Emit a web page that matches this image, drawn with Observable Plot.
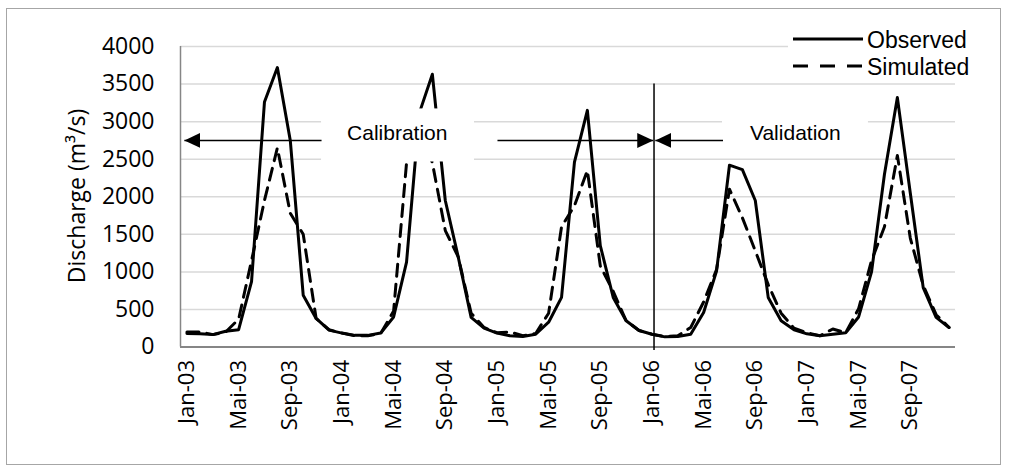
<!DOCTYPE html>
<html><head><meta charset="utf-8">
<script src="https://cdn.jsdelivr.net/npm/d3@7"></script>
<script src="https://cdn.jsdelivr.net/npm/@observablehq/plot@0.6"></script>
<style>
body{margin:0;background:#fff;}
#wrap{position:relative;width:1009px;height:470px;overflow:hidden;background:#fff;}
#chart{position:absolute;left:0;top:0;}
#border{position:absolute;left:6px;top:8px;width:995px;height:457px;border:1px solid #a6a6a6;box-sizing:border-box;pointer-events:none;}
#legend{position:absolute;left:788px;top:24px;width:190px;height:56px;background:#fff;}
#ylabel{position:absolute;left:76px;top:196px;transform:translate(-50%,-50%) rotate(-90deg);white-space:nowrap;font:23px "Open Sans";line-height:1;color:#000;}
</style></head><body>
<div id="wrap"><div id="chart"></div><div id="ylabel">Discharge (m³/s)</div><div id="legend"></div><div id="border"></div></div>
<script>
// ---- data ----
const monthNames = ["Jan","Feb","Mrz","Apr","Mai","Jun","Jul","Aug","Sep","Okt","Nov","Dez"];
const years = ["03","04","05","06","07"];
const observed = [
  180,175,165,210,230,870,3260,3720,2750,690,380,225,
  185,155,155,185,400,1130,3120,3630,1950,1200,395,250,
  185,150,140,170,330,660,2460,3150,1350,660,350,220,
  170,135,140,170,460,1010,2420,2360,1950,660,350,230,
  175,150,170,190,400,1000,2300,3320,2050,790,395,260
];
const simulated = [
  200,200,165,200,370,1150,1950,2650,1780,1500,380,230,
  185,150,150,180,480,2450,2950,2450,1550,1200,450,260,
  190,200,150,180,450,1600,1880,2350,1080,740,350,220,
  170,140,150,260,600,1030,2100,1720,1280,830,450,250,
  190,150,240,190,510,1150,1600,2550,1450,820,430,260
];
const yTicks = [0,500,1000,1500,2000,2500,3000,3500,4000];
const xTickIdx = [0,4,8,12,16,20,24,28,32,36,40,44,48,52,56];
const splitIdx = [36.16];
const annotBoxes = [
  {x1:10.42,x2:22.26,y1:2463,y2:3169},
  {x1:41.46,x2:52.76,y1:2540,y2:3150}
];
const arrowSegs = [
  {x1:10.42,x2:-0.2,y:2750},
  {x1:24.04,x2:36.1,y:2750},
  {x1:41.5,x2:36.26,y:2750}
];
const notes = [
  {x:16.28,y:2842,text:"Calibration"},
  {x:47.1,y:2842,text:"Validation"}
];
const series = [
  {name:"Observed",dash:null},
  {name:"Simulated",dash:"15,12"}
];

const labels = years.flatMap(y => monthNames.map(m => `${m}-${y}`));
const rows = observed.map((v,i)=>({i, obs:v, sim:simulated[i]}));

function triMarker(color){
  const ns = "http://www.w3.org/2000/svg";
  const m = document.createElementNS(ns,"marker");
  m.setAttribute("viewBox","-16 -8 17 16");
  m.setAttribute("markerWidth","17");
  m.setAttribute("markerHeight","16");
  m.setAttribute("markerUnits","userSpaceOnUse");
  m.setAttribute("orient","auto");
  m.setAttribute("refX","0");
  m.setAttribute("refY","0");
  const p = document.createElementNS(ns,"path");
  p.setAttribute("d","M-16,-7.5L0,0L-16,7.5Z");
  p.setAttribute("fill",color);
  p.setAttribute("stroke","none");
  m.appendChild(p);
  return m;
}

const plot = Plot.plot({
  width:1009, height:470,
  marginLeft:180, marginRight:54, marginTop:46, marginBottom:123.5,
  style:{background:"transparent", overflow:"visible", color:"#000"},
  x:{domain:[-0.5,59.5]},
  y:{domain:[0,4000]},
  marks:[
    Plot.ruleY(yTicks.slice(1), {stroke:"#d9d9d9", strokeWidth:1.5}),
    Plot.line(rows,{x:"i",y:"sim",stroke:"#000",strokeWidth:3,strokeDasharray:"12,8",strokeLinejoin:"round"}),
    Plot.line(rows,{x:"i",y:"obs",stroke:"#000",strokeWidth:3,strokeLinejoin:"round"}),
    Plot.ruleX([-0.5],{y1:0,y2:4000,stroke:"#868686",strokeWidth:1.5}),
    Plot.ruleY([0],{stroke:"#868686",strokeWidth:2}),
    Plot.rect(annotBoxes,{x1:"x1",x2:"x2",y1:"y1",y2:"y2",fill:"#fff"}),
    Plot.ruleX(splitIdx,{y1:3500,y2:-45,stroke:"#000",strokeWidth:1.5}),
    Plot.link(arrowSegs,{x1:"x1",x2:"x2",y1:"y",y2:"y",stroke:"#000",strokeWidth:1.5,markerEnd:triMarker}),
    Plot.text(notes,{x:"x",y:"y",text:"text",fontSize:21,fontFamily:"Liberation Sans",fill:"#000",lineAnchor:"middle"}),
    Plot.axisY({ticks:yTicks, tickFormat:d => String(d), tickSize:0, tickPadding:26, fontSize:23, fontFamily:"Open Sans", label:null}),
    Plot.axisX({ticks:xTickIdx, tickFormat:i => labels[i], tickRotate:-90, tickSize:0, tickPadding:13, fontSize:22, fontFamily:"Open Sans", label:null})
  ]
});
document.getElementById("chart").appendChild(plot);

// legend
const lg = d3.select("#legend").append("svg").attr("width",190).attr("height",56);
series.forEach((s,k)=>{
  const cy = 15 + k*27;
  lg.append("line").attr("x1",5).attr("x2",75).attr("y1",cy).attr("y2",cy)
    .attr("stroke","#000").attr("stroke-width",3)
    .attr("stroke-dasharray", s.dash);
  lg.append("text").attr("x",79).attr("y",cy+8.5).text(s.name)
    .attr("font-family","Liberation Sans").attr("font-size",23).attr("fill","#000");
});
</script>
</body></html>
